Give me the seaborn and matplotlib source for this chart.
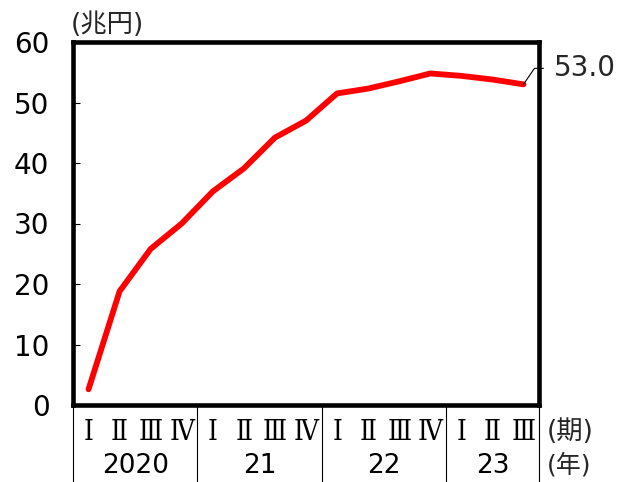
import numpy as np
import pandas as pd
import matplotlib
matplotlib.use("Agg")
import matplotlib.pyplot as plt
import matplotlib.transforms as mtransforms
import seaborn as sns

# Quarterly series, 2020 Q1 – 2023 Q3 (trillion yen)
quarters = ["Ⅰ", "Ⅱ", "Ⅲ", "Ⅳ", "Ⅰ", "Ⅱ", "Ⅲ", "Ⅳ", "Ⅰ", "Ⅱ", "Ⅲ", "Ⅳ", "Ⅰ", "Ⅱ", "Ⅲ"]
years = ["2020", "21", "22", "23"]
quarters_per_year = [4, 4, 4, 3]
values = [2.6, 18.8, 25.8, 30.0, 35.3, 39.1, 44.2, 47.0, 51.5, 52.3, 53.5, 54.8, 54.4, 53.8, 53.0]
y_ticks = [0, 10, 20, 30, 40, 50, 60]
unit_label = "(兆円)"
period_label = "(期)"
year_label = "(年)"

sns.set_style("white")
plt.rcParams["font.family"] = ["DejaVu Sans", "Noto Sans CJK JP"]

W, H = 622, 482
NUM_SIZE = 20
CJK_SIZE = 19
df = pd.DataFrame({"pos": np.arange(len(values)), "value": values})

fig = plt.figure(figsize=(W / 100, H / 100), dpi=100)
ax = fig.add_axes([73 / W, 77 / H, 466 / W, 363 / H])

sns.lineplot(data=df, x="pos", y="value", ax=ax, color="#ff0000", linewidth=4.2)

ax.set_xlim(-0.5, len(values) - 0.5)
ax.set_ylim(0, 60)
ax.set_yticks(y_ticks)
ax.set_yticklabels([str(t) for t in y_ticks])
ax.set_xticks([])
ax.set_xlabel("")
ax.set_ylabel("")
ax.tick_params(axis="y", direction="in", length=5, width=0.8, color="black",
               labelsize=NUM_SIZE, pad=17, labelcolor="black", left=True)
for sp in ax.spines.values():
    sp.set_visible(True)
    sp.set_color("black")
    sp.set_linewidth(3.3)

# Category table under the axis
trans = mtransforms.blended_transform_factory(ax.transData, ax.transAxes)
axes_px = 363.0
for i, q in enumerate(quarters):
    ax.text(i, -27 / axes_px, q, transform=trans, ha="center", va="center",
            fontsize=20, family=["DejaVu Serif", "Noto Sans CJK JP"],
            fontstretch="condensed", color="black")

bounds = np.concatenate([[0], np.cumsum(quarters_per_year)]) - 0.5
for b in bounds:
    ax.plot([b, b], [0, -80 / axes_px], transform=trans, color="black",
            linewidth=0.8, clip_on=False, solid_capstyle="butt")
for y, a, b in zip(years, bounds[:-1], bounds[1:]):
    ax.text((a + b) / 2, -61 / axes_px, y, transform=trans, ha="center",
            va="center", fontsize=19, color="black")

fig.text(547 / W, 1 - 432 / H, period_label, ha="left", va="center", fontsize=CJK_SIZE)
fig.text(547 / W, 1 - 465 / H, year_label, ha="left", va="center", fontsize=18)
fig.text(71 / W, 1 - 25 / H, unit_label, ha="left", va="center", fontsize=CJK_SIZE)

# Leader line and value label for the latest quarter
last_x, last_y = len(values) - 1, values[-1]
p0 = ax.transData.transform((last_x, last_y))
p1 = p0 + np.array([11, 16])
p2 = p0 + np.array([20, 16])
inv = fig.transFigure.inverted()
pts = inv.transform(np.array([p0, p1, p2]))
fig.add_artist(plt.Line2D(pts[:, 0], pts[:, 1], transform=fig.transFigure,
                          color="black", linewidth=0.8))
lbl = inv.transform((p2[0] + 10, p1[1]))
fig.text(lbl[0], lbl[1], f"{last_y:.1f}", ha="left", va="center", fontsize=NUM_SIZE)

fig.savefig("out.png", dpi=100)
